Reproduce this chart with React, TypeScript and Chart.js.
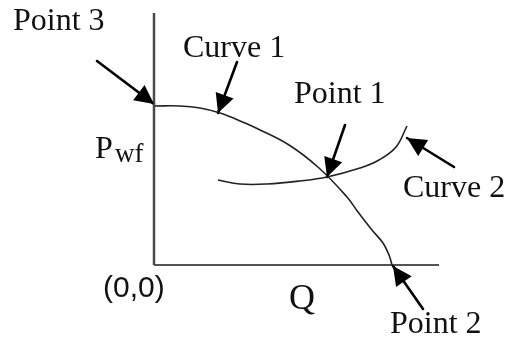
import React, { useEffect, useRef } from "react";
import { Chart, registerables } from "chart.js";

Chart.register(...registerables);

// Diagram values (Q along x, Pwf along y), origin at (0,0)
const curve1Q = [0, 26, 46, 66, 91, 102, 135, 165, 193, 204, 218, 229, 235, 238];
const curve1P = [159, 159, 157, 152, 142, 137, 120, 97, 68, 53, 35, 22, 10, 0];

const curve2Q = [64, 86, 113, 146, 173, 206, 225, 242, 253];
const curve2P = [85, 81, 81, 84, 88, 97, 105, 118, 139];

const axisQEnd = 285;
const axisPEnd = 252;

// arrows: tail -> tip
const arrowNames = ["Point 3", "Curve 1", "Point 1", "Curve 2", "Point 2"];
const arrowTailQ = [-57, 83, 191, 300, 269];
const arrowTailP = [204, 203, 140, 98, -44];
const arrowTipQ = [0, 64, 173, 253, 239];
const arrowTipP = [161, 152, 88, 127, -1];

// text labels
const labelTexts = ["Point 3", "Curve 1", "Point 1", "Curve 2", "P", "wf", "(0,0)", "Q", "Point 2"];
const labelQ = [-141, 29, 140, 249, -59, -39, -51, 135, 236];
const labelP = [235, 208, 162, 68, 107, 103, -32, -44, -68];
const labelFonts = [
  '32px "Liberation Serif"',
  '32px "Liberation Serif"',
  '32px "Liberation Serif"',
  '32px "Liberation Serif"',
  '32px "Liberation Serif"',
  '27px "Liberation Serif"',
  '30px "Liberation Sans"',
  '36px "Liberation Serif"',
  '32px "Liberation Serif"',
];

const pts = (xs: number[], ys: number[]) => xs.map((x, i) => ({ x, y: ys[i] }));

const arrowHeadPlugin = {
  id: "arrowHeads",
  afterDatasetsDraw(chart: any) {
    const ctx = chart.ctx;
    chart.data.datasets.forEach((ds: any, i: number) => {
      if (!ds.isArrow) return;
      const meta = chart.getDatasetMeta(i);
      const a = meta.data[0];
      const b = meta.data[1];
      const dx = b.x - a.x;
      const dy = b.y - a.y;
      const len = Math.hypot(dx, dy);
      const ux = dx / len;
      const uy = dy / len;
      const hl = 19;
      const hw = 9.5;
      const bx = b.x - ux * hl;
      const by = b.y - uy * hl;
      ctx.save();
      ctx.fillStyle = "#000";
      ctx.beginPath();
      ctx.moveTo(b.x, b.y);
      ctx.lineTo(bx - uy * hw, by + ux * hw);
      ctx.lineTo(bx + uy * hw, by - ux * hw);
      ctx.closePath();
      ctx.fill();
      ctx.restore();
    });
  },
};

const labelPlugin = {
  id: "textLabels",
  afterDraw(chart: any) {
    const ctx = chart.ctx;
    const xs = chart.scales.x;
    const ys = chart.scales.y;
    ctx.save();
    ctx.fillStyle = "#111";
    ctx.textAlign = "left";
    ctx.textBaseline = "alphabetic";
    labelTexts.forEach((t, i) => {
      ctx.font = labelFonts[i];
      ctx.fillText(t, xs.getPixelForValue(labelQ[i]), ys.getPixelForValue(labelP[i]));
    });
    ctx.restore();
  },
};

export default function App() {
  const ref = useRef<HTMLCanvasElement | null>(null);

  useEffect(() => {
    if (!ref.current) return;
    const lineBase = {
      showLine: true,
      pointRadius: 0,
      pointHoverRadius: 0,
      fill: false,
      clip: false as any,
    };
    const datasets: any[] = [
      { ...lineBase, label: "Pwf axis", data: pts([0, 0], [0, axisPEnd]), borderColor: "#4a4a4a", borderWidth: 2.5 },
      { ...lineBase, label: "Q axis", data: pts([0, axisQEnd], [0, 0]), borderColor: "#1a1a1a", borderWidth: 1.6 },
      { ...lineBase, label: "Curve 1", data: pts(curve1Q, curve1P), borderColor: "#222", borderWidth: 1.6, tension: 0.4 },
      { ...lineBase, label: "Curve 2", data: pts(curve2Q, curve2P), borderColor: "#222", borderWidth: 1.6, tension: 0.4 },
    ];
    arrowNames.forEach((n, i) => {
      datasets.push({
        ...lineBase,
        label: "arrow " + n,
        isArrow: true,
        data: [
          { x: arrowTailQ[i], y: arrowTailP[i] },
          { x: arrowTipQ[i], y: arrowTipP[i] },
        ],
        borderColor: "#000",
        borderWidth: 2.6,
        borderCapStyle: "round",
      });
    });

    const chart = new Chart(ref.current, {
      type: "scatter",
      data: { datasets },
      options: {
        animation: false,
        responsive: false,
        maintainAspectRatio: false,
        layout: { padding: 0 },
        events: [],
        plugins: { legend: { display: false }, tooltip: { enabled: false } },
        scales: {
          x: { type: "linear", min: -154, max: 358, display: false },
          y: { type: "linear", min: -73, max: 265, display: false },
        },
      },
      plugins: [arrowHeadPlugin, labelPlugin],
    } as any);
    return () => chart.destroy();
  }, []);

  return (
    <div style={{ position: "absolute", left: 0, top: 0, width: 512, height: 338, background: "#fff" }}>
      <canvas ref={ref} width={512} height={338} style={{ display: "block" }} />
    </div>
  );
}
